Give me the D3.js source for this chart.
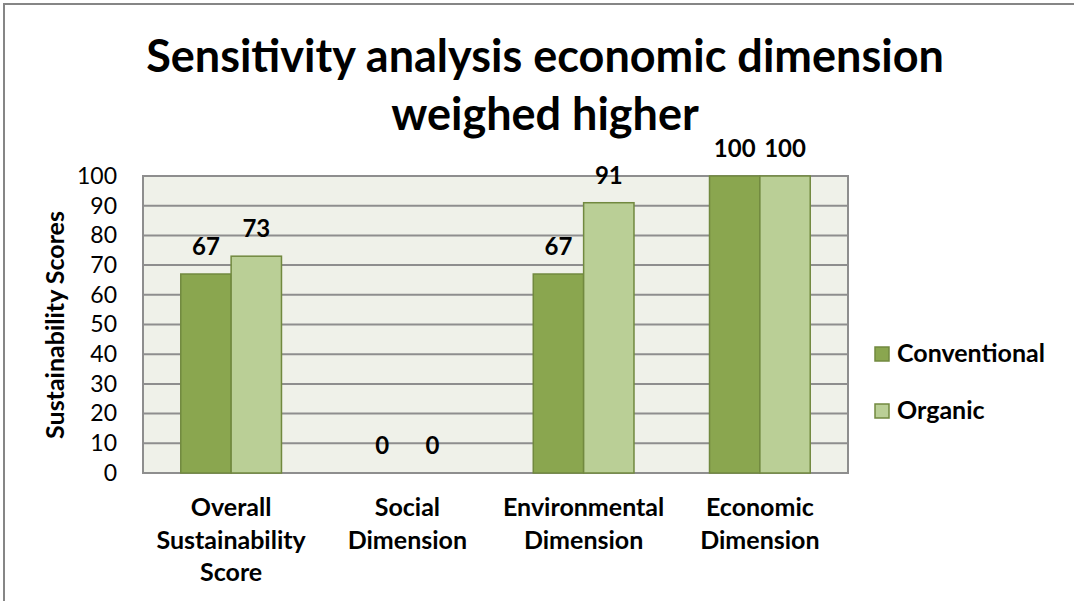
<!DOCTYPE html>
<html>
<head>
<meta charset="utf-8">
<script src="https://cdn.jsdelivr.net/npm/d3@7"></script>
<style>
  html, body { margin: 0; padding: 0; background: #fff; }
  svg { display: block; font-family: Lato, "Open Sans", sans-serif; }
</style>
</head>
<body>
<svg id="chart" width="1074" height="601"></svg>
<script>
// chart data
const categories = [
  ['Overall', 'Sustainability', 'Score'],
  ['Social', 'Dimension'],
  ['Environmental', 'Dimension'],
  ['Economic', 'Dimension']
];
const seriesNames = ['Conventional', 'Organic'];
const conventional = [67, 0, 67, 100];
const organic = [73, 0, 91, 100];
const yTicks = [0, 10, 20, 30, 40, 50, 60, 70, 80, 90, 100];
const titleLines = ['Sensitivity analysis economic dimension', 'weighed higher'];
const yTitle = 'Sustainability Scores';

const colors = ['#8aa64f', '#bacf96'];
const strokeCol = '#71893f';

const svg = d3.select('#chart');

// outer frame (runs off right/bottom edge)
svg.append('rect')
  .attr('x', 4).attr('y', 4)
  .attr('width', 1090).attr('height', 620)
  .attr('fill', '#fff')
  .attr('stroke', '#868686').attr('stroke-width', 2);

const plot = { left: 143, top: 176, right: 848, bottom: 473 };

const x = d3.scaleBand()
  .domain(d3.range(categories.length))
  .range([plot.left, plot.right]);

const xs = d3.scaleBand()
  .domain(seriesNames)
  .range([0, x.bandwidth()])
  .paddingOuter(0.75)
  .paddingInner(0);

const y = d3.scaleLinear()
  .domain([0, 100])
  .range([plot.bottom, plot.top]);

// plot background
svg.append('rect')
  .attr('x', plot.left).attr('y', plot.top)
  .attr('width', plot.right - plot.left).attr('height', plot.bottom - plot.top)
  .attr('fill', '#eff1e9');

// gridlines
svg.append('g')
  .selectAll('line')
  .data(yTicks)
  .enter().append('line')
  .attr('x1', plot.left).attr('x2', plot.right)
  .attr('y1', d => y(d)).attr('y2', d => y(d))
  .attr('stroke', '#8e8e8e').attr('stroke-width', 2);

// plot border
svg.append('rect')
  .attr('x', plot.left).attr('y', plot.top)
  .attr('width', plot.right - plot.left).attr('height', plot.bottom - plot.top)
  .attr('fill', 'none')
  .attr('stroke', '#8e8e8e').attr('stroke-width', 2);

// y axis labels
const yAxis = d3.axisLeft(y).tickValues(yTicks).tickSize(0).tickPadding(26);
const yg = svg.append('g')
  .attr('transform', `translate(${plot.left},0)`)
  .call(yAxis);
yg.select('.domain').remove();
yg.selectAll('text')
  .attr('font-size', 23)
  .attr('font-family', 'Lato, "Open Sans", sans-serif')
  .attr('fill', '#000');

// y axis title
svg.append('text')
  .attr('transform', 'translate(64,325) rotate(-90)')
  .attr('text-anchor', 'middle')
  .attr('font-size', 25)
  .attr('font-weight', 'bold')
  .text(yTitle);

// bars
const seriesData = [conventional, organic];
const groups = svg.append('g').selectAll('g')
  .data(seriesData)
  .enter().append('g')
  .attr('fill', (d, i) => colors[i]);

groups.selectAll('rect')
  .data((vals, si) => vals.map((v, ci) => ({ v, ci, si })))
  .enter().append('rect')
  .filter(d => d.v > 0)
  .attr('x', d => x(d.ci) + xs(seriesNames[d.si]))
  .attr('y', d => y(d.v))
  .attr('width', xs.bandwidth())
  .attr('height', d => y(0) - y(d.v))
  .attr('stroke', strokeCol)
  .attr('stroke-width', 1.5);

// data labels
groups.selectAll('text')
  .data((vals, si) => vals.map((v, ci) => ({ v, ci, si })))
  .enter().append('text')
  .attr('x', d => x(d.ci) + xs(seriesNames[d.si]) + xs.bandwidth() / 2)
  .attr('y', d => y(d.v) - 19)
  .attr('text-anchor', 'middle')
  .attr('font-size', 24)
  .attr('font-weight', 'bold')
  .attr('fill', '#000')
  .text(d => d.v);

// category labels
svg.append('g').selectAll('text')
  .data(categories)
  .enter().append('text')
  .attr('text-anchor', 'middle')
  .attr('font-size', 25)
  .attr('font-weight', 'bold')
  .attr('x', (d, i) => x(i) + x.bandwidth() / 2)
  .attr('y', 516)
  .each(function(lines) {
    d3.select(this).selectAll('tspan')
      .data(lines)
      .enter().append('tspan')
      .attr('x', d3.select(this).attr('x'))
      .attr('dy', (l, j) => j === 0 ? 0 : 32.5)
      .text(l => l);
  });

// title
svg.append('g').selectAll('text')
  .data(titleLines)
  .enter().append('text')
  .attr('x', 545)
  .attr('y', (d, i) => 72 + i * 58)
  .attr('text-anchor', 'middle')
  .attr('font-size', 45)
  .attr('font-weight', 'bold')
  .text(d => d);

// legend
const legend = svg.append('g').selectAll('g')
  .data(seriesNames)
  .enter().append('g')
  .attr('transform', (d, i) => `translate(875,${347 + i * 57})`);
legend.append('rect')
  .attr('width', 14).attr('height', 14)
  .attr('fill', (d, i) => colors[i])
  .attr('stroke', strokeCol).attr('stroke-width', 1.5);
legend.append('text')
  .attr('x', 22).attr('y', 15)
  .attr('font-size', 25)
  .attr('font-weight', 'bold')
  .text(d => d);
</script>
</body>
</html>
